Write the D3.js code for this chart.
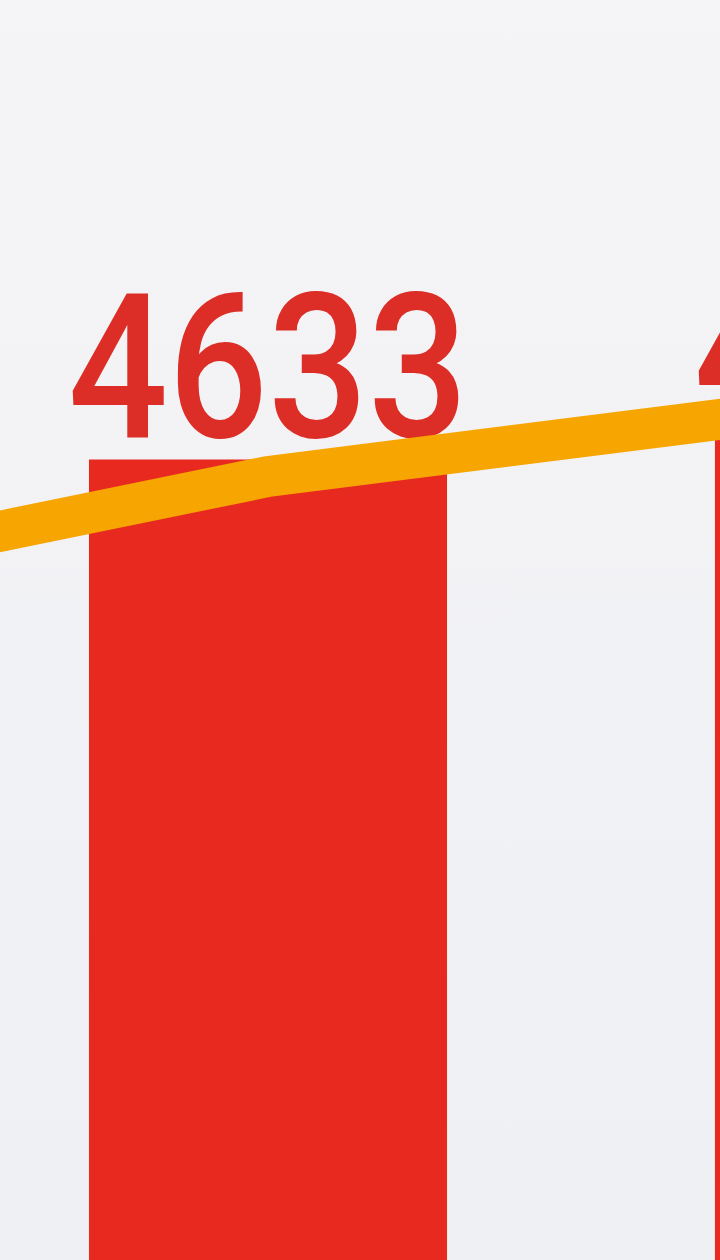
<!DOCTYPE html>
<html>
<head>
<meta charset="utf-8">
<script src="https://cdn.jsdelivr.net/npm/d3@7.9.0/dist/d3.min.js"></script>
<style>
  html, body { margin: 0; padding: 0; background: #f1f1f3; overflow: hidden; }
  svg { display: block; }
</style>
</head>
<body>
<div id="chart"></div>
<script>
const categories = ['prev', 'cur', 'next'];
const barValues = [4402, 4633, 4673];
const lineValues = [4343, 4599, 4757];
const labels = ['4402', '4633', '4673'];

const width = 720;
const height = 1260;

const svg = d3.select('#chart')
  .append('svg')
  .attr('width', width)
  .attr('height', height);

// soft photographic background
const defs = svg.append('defs');
const bg = defs.append('linearGradient')
  .attr('id', 'bg')
  .attr('x1', 0).attr('y1', 0).attr('x2', 0).attr('y2', 1);
bg.append('stop').attr('offset', '0%').attr('stop-color', '#f5f4f6');
bg.append('stop').attr('offset', '100%').attr('stop-color', '#eef0f4');
svg.append('rect')
  .attr('width', width)
  .attr('height', height)
  .attr('fill', 'url(#bg)');

// the crop only shows part of a much taller chart, so the zero line sits far below
const xScale = d3.scaleBand()
  .domain(categories)
  .range([-537, 1073])
  .paddingInner(0.428)
  .paddingOuter(0);

const yScale = d3.scaleLinear()
  .domain([0, 5000])
  .range([2776, 276]);

// bars
svg.append('g')
  .selectAll('rect')
  .data(categories)
  .join('rect')
  .attr('x', (d) => xScale(d))
  .attr('y', (d, i) => yScale(barValues[i]))
  .attr('width', xScale.bandwidth())
  .attr('height', (d, i) => yScale(0) - yScale(barValues[i]))
  .attr('fill', '#e8291f');

// value labels
svg.append('g')
  .selectAll('text')
  .data(categories)
  .join('text')
  .attr('x', (d) => xScale(d) + xScale.bandwidth() / 2)
  .attr('y', (d, i) => yScale(barValues[i]) - 23)
  .attr('text-anchor', 'middle')
  .attr('font-family', 'Roboto, sans-serif')
  .attr('font-weight', 500)
  .attr('font-size', 203)
  .attr('textLength', 400)
  .attr('lengthAdjust', 'spacingAndGlyphs')
  .attr('fill', '#dc2e26')
  .text((d, i) => labels[i]);

// orange line through the bar centres
const line = d3.line()
  .x((d, i) => xScale(categories[i]) + xScale.bandwidth() / 2)
  .y((d) => yScale(d));

svg.append('path')
  .datum(lineValues)
  .attr('d', line)
  .attr('fill', 'none')
  .attr('stroke', '#f7a500')
  .attr('stroke-width', 41)
  .attr('stroke-linejoin', 'round');
</script>
</body>
</html>
